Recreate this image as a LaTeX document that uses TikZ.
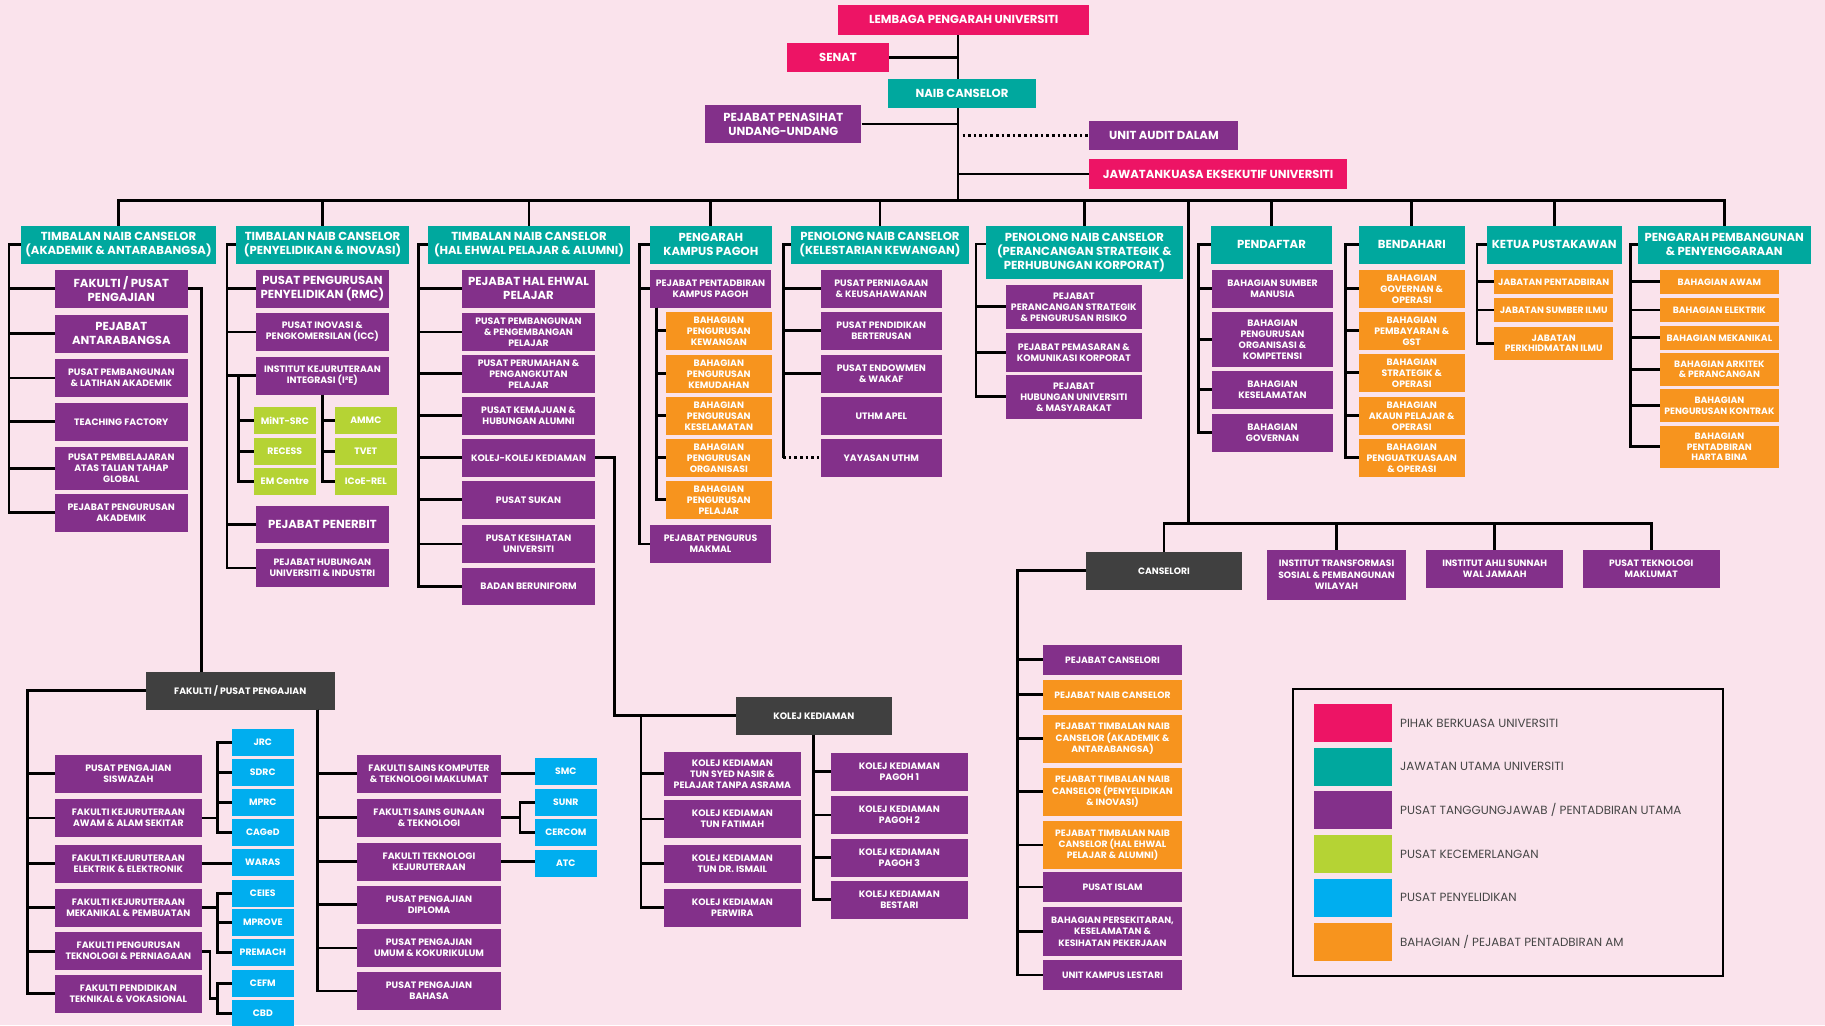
\documentclass[tikz,border=0pt]{standalone}
\usepackage{fontspec}
\setmainfont{Poppins}
\usepackage{tikz}
\usepackage{xcolor}

\definecolor{bgpink}{RGB}{250,227,236}
\definecolor{authpink}{RGB}{237,20,101}
\definecolor{mainteal}{RGB}{0,168,158}
\definecolor{unitpurple}{RGB}{131,48,138}
\definecolor{exclime}{RGB}{181,211,52}
\definecolor{rescyan}{RGB}{0,174,239}
\definecolor{admorange}{RGB}{247,148,30}
\definecolor{grpgray}{RGB}{64,64,64}
\definecolor{legendtext}{RGB}{70,70,70}

\tikzset{
    bx/.style={rectangle, inner sep=0pt, align=center, text=white, minimum height=32.3pt, font=\bfseries\fontsize{8}{9.45}\selectfont},
    bigtxt/.style={font=\bfseries\fontsize{10}{12}\selectfont},
    lesstxt/.style={font=\bfseries\fontsize{7.9}{9.2}\selectfont},
    slimtxt/.style={font=\bfseries\fontsize{7.9}{9.6}\selectfont},
    authbox/.style={bx, bigtxt, fill=authpink},
    headbox/.style={bx, bigtxt, fill=mainteal},
    unitbox/.style={bx, fill=unitpurple},
    admbox/.style={bx, fill=admorange},
    grpbox/.style={bx, fill=grpgray},
    excbox/.style={bx, fill=exclime, minimum width=53pt, minimum height=22.9pt},
    resbox/.style={bx, fill=rescyan, minimum width=53pt, minimum height=22.9pt},
    wire/.style={line width=2.4pt},
    dotwire/.style={line width=2.4pt, dash pattern=on 2.2pt off 2.6pt}
}

\begin{document}
\begin{tikzpicture}[x=1pt, y=-1pt]
\fill[bgpink] (0,0) rectangle (1568,881);
\useasboundingbox (0,0) rectangle (1568,881);

\node[authbox, minimum width=216pt, minimum height=26pt] (lpu) at (828,17) {LEMBAGA PENGARAH UNIVERSITI};
\node[authbox, minimum width=88pt, minimum height=25pt] (senat) at (720,49.5) {SENAT};
\node[headbox, minimum width=127pt, minimum height=25pt] (nc) at (826.5,80.5) {NAIB CANSELOR};
\node[unitbox, bigtxt, minimum width=134pt, minimum height=33pt] (pua) at (673,106.5) {PEJABAT PENASIHAT\\UNDANG-UNDANG};
\node[unitbox, bigtxt, minimum width=128pt, minimum height=25pt] (uad) at (1000,116.5) {UNIT AUDIT DALAM};
\node[authbox, minimum width=221pt, minimum height=25pt] (jeu) at (1046.5,149.5) {JAWATANKUASA EKSEKUTIF UNIVERSITI};

\node[headbox, minimum width=167.6pt] (t1) at (101.8,210.3) {TIMBALAN NAIB CANSELOR\\(AKADEMIK \& ANTARABANGSA)};
\node[headbox, minimum width=148.6pt] (t2) at (277.1,210.3) {TIMBALAN NAIB CANSELOR\\(PENYELIDIKAN \& INOVASI)};
\node[headbox, minimum width=173.6pt] (t3) at (454.5,210.3) {TIMBALAN NAIB CANSELOR\\(HAL EHWAL PELAJAR \& ALUMNI)};
\node[headbox, minimum width=104.5pt] (t4) at (610.75,210.3) {PENGARAH\\KAMPUS PAGOH};
\node[headbox, minimum width=152.9pt] (t5) at (756.05,210.3) {PENOLONG NAIB CANSELOR\\(KELESTARIAN KEWANGAN)};
\node[headbox, minimum width=169.1pt, minimum height=45.5pt] (t6) at (931.65,216.95) {PENOLONG NAIB CANSELOR\\(PERANCANGAN STRATEGIK \&\\PERHUBUNGAN KORPORAT)};
\node[headbox, minimum width=103.8pt] (t7) at (1092.4,210.3) {PENDAFTAR};
\node[headbox, minimum width=90.9pt] (t8) at (1212.95,210.3) {BENDAHARI};
\node[headbox, minimum width=115.8pt] (t9) at (1335.4,210.3) {KETUA PUSTAKAWAN};
\node[headbox, minimum width=148.3pt] (t10) at (1481.45,210.3) {PENGARAH PEMBANGUNAN\\\& PENYENGGARAAN};

\node[unitbox, bigtxt, minimum width=114pt] (a1) at (104.25,248.2) {FAKULTI / PUSAT\\PENGAJIAN};
\node[unitbox, bigtxt, minimum width=114pt] (a2) at (104.25,286.8) {PEJABAT\\ANTARABANGSA};
\node[unitbox, minimum width=114pt] (a3) at (104.25,324.75) {PUSAT PEMBANGUNAN\\\& LATIHAN AKADEMIK};
\node[unitbox, minimum width=114pt] (a4) at (104.25,362.45) {TEACHING FACTORY};
\node[unitbox, minimum width=114pt, minimum height=36.4pt] (a5) at (104.25,402.5) {PUSAT PEMBELAJARAN\\ATAS TALIAN TAHAP\\GLOBAL};
\node[unitbox, minimum width=114pt] (a6) at (104.25,440.6) {PEJABAT PENGURUSAN\\AKADEMIK};

\node[unitbox, bigtxt, minimum width=114pt] (b1) at (277,248.2) {PUSAT PENGURUSAN\\PENYELIDIKAN (RMC)};
\node[unitbox, minimum width=114pt] (b2) at (277,285.25) {PUSAT INOVASI \&\\PENGKOMERSILAN (ICC)};
\node[unitbox, minimum width=114pt] (b3) at (277,322.9) {INSTITUT KEJURUTERAAN\\INTEGRASI (I²E)};
\node[excbox] (m1) at (244.7,361.15) {MiNT-SRC};
\node[excbox] (m2) at (244.7,387.9) {RECESS};
\node[excbox] (m3) at (244.7,413.55) {EM Centre};
\node[excbox] (m4) at (314.3,361.15) {AMMC};
\node[excbox] (m5) at (314.3,387.9) {TVET};
\node[excbox] (m6) at (314.3,413.55) {ICoE-REL};
\node[unitbox, bigtxt, minimum width=114pt] (b4) at (277,450.75) {PEJABAT PENERBIT};
\node[unitbox, minimum width=114pt] (b5) at (277,488) {PEJABAT HUBUNGAN\\UNIVERSITI \& INDUSTRI};

\node[unitbox, bigtxt, minimum width=114.2pt] (h1) at (454.1,248.2) {PEJABAT HAL EHWAL\\PELAJAR};
\node[unitbox, minimum width=114.2pt] (h2) at (454.1,285.25) {PUSAT PEMBANGUNAN\\\& PENGEMBANGAN\\PELAJAR};
\node[unitbox, minimum width=114.2pt] (h3) at (454.1,321.2) {PUSAT PERUMAHAN \&\\PENGANGKUTAN\\PELAJAR};
\node[unitbox, minimum width=114.2pt] (h4) at (454.1,357.3) {PUSAT KEMAJUAN \&\\HUBUNGAN ALUMNI};
\node[unitbox, minimum width=114.2pt] (h5) at (454.1,393.4) {KOLEJ-KOLEJ KEDIAMAN};
\node[unitbox, minimum width=114.2pt] (h6) at (454.1,429.45) {PUSAT SUKAN};
\node[unitbox, minimum width=114.2pt] (h7) at (454.1,467.3) {PUSAT KESIHATAN\\UNIVERSITI};
\node[unitbox, minimum width=114.2pt] (h8) at (454.1,504) {BADAN BERUNIFORM};

\node[unitbox, minimum width=104pt] (p1) at (610.45,248.2) {PEJABAT PENTADBIRAN\\KAMPUS PAGOH};
\node[admbox, minimum width=90.8pt] (p2) at (617.6,284.2) {BAHAGIAN\\PENGURUSAN\\KEWANGAN};
\node[admbox, minimum width=90.8pt] (p3) at (617.6,321.2) {BAHAGIAN\\PENGURUSAN\\KEMUDAHAN};
\node[admbox, minimum width=90.8pt] (p4) at (617.6,357.3) {BAHAGIAN\\PENGURUSAN\\KESELAMATAN};
\node[admbox, minimum width=90.8pt] (p5) at (617.6,393.4) {BAHAGIAN\\PENGURUSAN\\ORGANISASI};
\node[admbox, minimum width=90.8pt] (p6) at (617.6,429.45) {BAHAGIAN\\PENGURUSAN\\PELAJAR};
\node[unitbox, minimum width=104pt] (p7) at (610.45,467.3) {PEJABAT PENGURUS\\MAKMAL};

\node[unitbox, minimum width=103.6pt] (w1) at (757.2,248.2) {PUSAT PERNIAGAAN\\\& KEUSAHAWANAN};
\node[unitbox, minimum width=103.6pt] (w2) at (757.2,284.2) {PUSAT PENDIDIKAN\\BERTERUSAN};
\node[unitbox, minimum width=103.6pt] (w3) at (757.2,321.2) {PUSAT ENDOWMEN\\\& WAKAF};
\node[unitbox, minimum width=103.6pt] (w4) at (757.2,357.3) {UTHM APEL};
\node[unitbox, minimum width=103.6pt] (w5) at (757.2,393.4) {YAYASAN UTHM};

\node[unitbox, minimum width=116.6pt, minimum height=37.5pt] (g1) at (922.6,263.65) {PEJABAT\\PERANCANGAN STRATEGIK\\\& PENGURUSAN RISIKO};
\node[unitbox, minimum width=116.6pt, minimum height=32.9pt] (g2) at (922.6,302.85) {PEJABAT PEMASARAN \&\\KOMUNIKASI KORPORAT};
\node[unitbox, minimum width=116.6pt, minimum height=37.5pt] (g3) at (922.6,340.95) {PEJABAT\\HUBUNGAN UNIVERSITI\\\& MASYARAKAT};

\node[unitbox, minimum width=103.4pt] (r1) at (1093.3,248.2) {BAHAGIAN SUMBER\\MANUSIA};
\node[unitbox, minimum width=103.4pt, minimum height=46.7pt] (r2) at (1093.3,291.65) {BAHAGIAN\\PENGURUSAN\\ORGANISASI \&\\KOMPETENSI};
\node[unitbox, minimum width=103.4pt] (r3) at (1093.3,334.95) {BAHAGIAN\\KESELAMATAN};
\node[unitbox, minimum width=103.4pt] (r4) at (1093.3,371.85) {BAHAGIAN\\GOVERNAN};

\node[admbox, minimum width=90.9pt] (f1) at (1212.95,248.2) {BAHAGIAN\\GOVERNAN \&\\OPERASI};
\node[admbox, minimum width=90.9pt] (f2) at (1212.95,284.2) {BAHAGIAN\\PEMBAYARAN \&\\GST};
\node[admbox, minimum width=90.9pt] (f3) at (1212.95,320.3) {BAHAGIAN\\STRATEGIK \&\\OPERASI};
\node[admbox, minimum width=90.9pt] (f4) at (1212.95,357.3) {BAHAGIAN\\AKAUN PELAJAR \&\\OPERASI};
\node[admbox, minimum width=90.9pt] (f5) at (1212.95,393.4) {BAHAGIAN\\PENGUATKUASAAN\\\& OPERASI};

\node[admbox, lesstxt, minimum width=102.2pt, minimum height=20.3pt] (j1) at (1334.9,242.15) {JABATAN PENTADBIRAN};
\node[admbox, lesstxt, minimum width=102.2pt, minimum height=20.1pt] (j2) at (1334.9,266.35) {JABATAN SUMBER ILMU};
\node[admbox, lesstxt, minimum width=102.2pt, minimum height=28pt] (j3) at (1334.9,295) {JABATAN\\PERKHIDMATAN ILMU};

\node[admbox, lesstxt, minimum width=101.7pt, minimum height=20.3pt] (e1) at (1477.25,242.15) {BAHAGIAN AWAM};
\node[admbox, lesstxt, minimum width=101.7pt, minimum height=20.1pt] (e2) at (1477.25,266.35) {BAHAGIAN ELEKTRIK};
\node[admbox, lesstxt, minimum width=101.7pt, minimum height=20.3pt] (e3) at (1477.25,290.25) {BAHAGIAN MEKANIKAL};
\node[admbox, lesstxt, minimum width=101.7pt, minimum height=28.1pt] (e4) at (1477.25,317.35) {BAHAGIAN ARKITEK\\\& PERANCANGAN};
\node[admbox, lesstxt, minimum width=101.7pt, minimum height=27.8pt] (e5) at (1477.25,348.4) {BAHAGIAN\\PENGURUSAN KONTRAK};
\node[admbox, lesstxt, minimum width=101.7pt, minimum height=35.8pt] (e6) at (1477.25,383.9) {BAHAGIAN\\PENTADBIRAN\\HARTA BINA};

\node[grpbox, minimum width=162.1pt] (fp) at (206.45,593.55) {FAKULTI / PUSAT PENGAJIAN};
\node[unitbox, minimum width=126pt] (u1) at (110.3,664.85) {PUSAT PENGAJIAN\\SISWAZAH};
\node[unitbox, minimum width=126pt] (u2) at (110.3,702.85) {FAKULTI KEJURUTERAAN\\AWAM \& ALAM SEKITAR};
\node[unitbox, minimum width=126pt] (u3) at (110.3,742.2) {FAKULTI KEJURUTERAAN\\ELEKTRIK \& ELEKTRONIK};
\node[unitbox, minimum width=126pt] (u4) at (110.3,780) {FAKULTI KEJURUTERAAN\\MEKANIKAL \& PEMBUATAN};
\node[unitbox, minimum width=126pt] (u5) at (110.3,817.2) {FAKULTI PENGURUSAN\\TEKNOLOGI \& PERNIAGAAN};
\node[unitbox, minimum width=126pt] (u6) at (110.3,853.85) {FAKULTI PENDIDIKAN\\TEKNIKAL \& VOKASIONAL};
\node[resbox] (jrc) at (225.8,638.05) {JRC};
\node[resbox] (sdrc) at (225.8,663.7) {SDRC};
\node[resbox] (mprc) at (225.8,689.5) {MPRC};
\node[resbox] (caged) at (225.8,715.15) {CAGeD};
\node[resbox] (waras) at (225.8,740.9) {WARAS};
\node[resbox] (ceies) at (225.8,767.55) {CEIES};
\node[resbox] (mprove) at (225.8,792.75) {MPROVE};
\node[resbox] (premach) at (225.8,818.25) {PREMACH};
\node[resbox] (cefm) at (225.8,845.15) {CEFM};
\node[resbox] (cbd) at (225.8,870.7) {CBD};
\node[unitbox, minimum width=123.8pt] (v1) at (368.6,664.85) {FAKULTI SAINS KOMPUTER\\\& TEKNOLOGI MAKLUMAT};
\node[unitbox, minimum width=123.8pt] (v2) at (368.6,702.7) {FAKULTI SAINS GUNAAN\\\& TEKNOLOGI};
\node[unitbox, minimum width=123.8pt] (v3) at (368.6,740.5) {FAKULTI TEKNOLOGI\\KEJURUTERAAN};
\node[unitbox, minimum width=123.8pt] (v4) at (368.6,777.4) {PUSAT PENGAJIAN\\DIPLOMA};
\node[unitbox, minimum width=123.8pt] (v5) at (368.6,814.4) {PUSAT PENGAJIAN\\UMUM \& KOKURIKULUM};
\node[unitbox, minimum width=123.8pt] (v6) at (368.6,851.45) {PUSAT PENGAJIAN\\BAHASA};
\node[resbox] (smc) at (486.15,662.75) {SMC};
\node[resbox] (sunr) at (486.15,689.35) {SUNR};
\node[resbox] (cercom) at (486.15,715.15) {CERCOM};
\node[resbox] (atc) at (486.15,741.75) {ATC};

\node[grpbox, minimum width=133.7pt] (kk) at (699.25,615) {KOLEJ KEDIAMAN};
\node[unitbox, minimum width=117.5pt, minimum height=37.5pt] (k1) at (629.25,664.85) {KOLEJ KEDIAMAN\\TUN SYED NASIR \&\\PELAJAR TANPA ASRAMA};
\node[unitbox, minimum width=117.5pt] (k2) at (629.25,703.65) {KOLEJ KEDIAMAN\\TUN FATIMAH};
\node[unitbox, minimum width=117.5pt] (k3) at (629.25,742.2) {KOLEJ KEDIAMAN\\TUN DR. ISMAIL};
\node[unitbox, minimum width=117.5pt] (k4) at (629.25,780) {KOLEJ KEDIAMAN\\PERWIRA};
\node[unitbox, minimum width=117.4pt] (k5) at (772.7,663.15) {KOLEJ KEDIAMAN\\PAGOH 1};
\node[unitbox, minimum width=117.4pt] (k6) at (772.7,700.15) {KOLEJ KEDIAMAN\\PAGOH 2};
\node[unitbox, minimum width=117.4pt] (k7) at (772.7,737.05) {KOLEJ KEDIAMAN\\PAGOH 3};
\node[unitbox, minimum width=117.4pt] (k8) at (772.7,773.15) {KOLEJ KEDIAMAN\\BESTARI};

\node[grpbox, slimtxt, minimum width=134pt] (cs) at (1000,490.45) {CANSELORI};
\node[unitbox, slimtxt, minimum width=119.9pt, minimum height=42.6pt] (it1) at (1148.35,493.9) {INSTITUT TRANSFORMASI\\SOSIAL \& PEMBANGUNAN\\WILAYAH};
\node[unitbox, slimtxt, minimum width=117.6pt, minimum height=32.4pt] (it2) at (1284.2,488.8) {INSTITUT AHLI SUNNAH\\WAL JAMAAH};
\node[unitbox, slimtxt, minimum width=117.4pt, minimum height=32.4pt] (ptm) at (1418.7,488.8) {PUSAT TEKNOLOGI\\MAKLUMAT};
\node[unitbox, slimtxt, minimum width=119.5pt, minimum height=25.5pt] (q1) at (955.85,566.95) {PEJABAT CANSELORI};
\node[admbox, slimtxt, minimum width=119.5pt, minimum height=25.5pt] (q2) at (955.85,596.95) {PEJABAT NAIB CANSELOR};
\node[admbox, slimtxt, minimum width=119.5pt, minimum height=41pt] (q3) at (955.85,634.8) {PEJABAT TIMBALAN NAIB\\CANSELOR (AKADEMIK \&\\ANTARABANGSA)};
\node[admbox, slimtxt, minimum width=119.5pt, minimum height=40.9pt] (q4) at (955.85,680.35) {PEJABAT TIMBALAN NAIB\\CANSELOR (PENYELIDIKAN\\\& INOVASI)};
\node[admbox, slimtxt, minimum width=119.5pt, minimum height=41.2pt] (q5) at (955.85,726) {PEJABAT TIMBALAN NAIB\\CANSELOR (HAL EHWAL\\PELAJAR \& ALUMNI)};
\node[unitbox, slimtxt, minimum width=119.5pt, minimum height=25.2pt] (q6) at (955.85,762.1) {PUSAT ISLAM};
\node[unitbox, slimtxt, minimum width=119.5pt, minimum height=42.4pt] (q7) at (955.85,800.5) {BAHAGIAN PERSEKITARAN,\\KESELAMATAN \&\\KESIHATAN PEKERJAAN};
\node[unitbox, slimtxt, minimum width=119.5pt, minimum height=25.3pt] (q8) at (955.85,837.65) {UNIT KAMPUS LESTARI};

\draw[line width=1.8pt] (1110.6,592.3) rectangle (1480,838.3);
\foreach \c/\y/\t [count=\i] in {authpink/621.05/{PIHAK BERKUASA UNIVERSITI}, mainteal/658.85/{JAWATAN UTAMA UNIVERSITI}, unitpurple/695.8/{PUSAT TANGGUNGJAWAB / PENTADBIRAN UTAMA}, exclime/733.6/{PUSAT KECEMERLANGAN}, rescyan/771.4/{PUSAT PENYELIDIKAN}, admorange/809.2/{BAHAGIAN / PEJABAT PENTADBIRAN AM}} {
    \node[fill=\c, minimum width=67pt, minimum height=32.3pt, inner sep=0pt] (sw\i) at (1162.5,\y) {};
    \node[anchor=west, inner sep=0pt, text=legendtext, font=\fontsize{10.2}{12}\selectfont] (lb\i) at (1202.8,\y) {\t};
}

\coordinate (bus) at (823,172);
\coordinate (dn) at (1021,172);
\coordinate (bus2) at (1021,449.6);
\coordinate (dt) at (827,116.5);
\draw[wire] (bus |- lpu.south) -- (bus |- nc.north);
\draw[wire] (bus |- nc.south) -- (bus);
\draw[wire] (senat.east) -- (senat.east -| bus);
\draw[wire] (pua.east) -- (pua.east -| bus);
\draw[dotwire] (dt) -- (uad.west);
\draw[wire] (jeu.west) -- (jeu.west -| bus);
\draw[wire] (t1.north) |- (bus);
\draw[wire] (t10.north) |- (bus);
\foreach \n in {t2,t3,t4,t5,t6,t7,t8,t9}
    \draw[wire] (\n.north) -- (\n.north |- bus);

\coordinate (s1) at (7.7,210.3);
\draw[wire] (t1.west) -| (s1 |- a6.west) -- (a6.west);
\foreach \n in {a1,a2,a3,a4,a5}
    \draw[wire] (s1) |- (\n.west);

\coordinate (s2) at (195,210.3);
\draw[wire] (t2.west) -| (s2 |- b5.west) -- (b5.west);
\foreach \n in {b1,b2,b3,b4}
    \draw[wire] (s2) |- (\n.west);
\coordinate (ia) at (205,322.9);
\foreach \n in {m1,m2,m3}
    \draw[wire] (ia) |- (\n.west);
\foreach \n in {m4,m5,m6}
    \draw[wire] (b3.south) |- (\n.west);

\coordinate (s3) at (359.4,210.3);
\draw[wire] (t3.west) -| (s3 |- h8.west) -- (h8.west);
\foreach \n in {h1,h2,h3,h4,h5,h6,h7}
    \draw[wire] (s3) |- (\n.west);
\coordinate (kj) at (528.1,615);
\coordinate (kl) at (550.7,615);
\draw[wire] (h5.east) -| (kj) -- (kk.west);
\foreach \n in {k1,k2,k3,k4}
    \draw[wire] (kl) |- (\n.west);
\foreach \n in {k5,k6,k7,k8}
    \draw[wire] (kk.south) |- (\n.west);

\coordinate (s4) at (549.3,210.3);
\draw[wire] (t4.west) -| (s4 |- p7.west) -- (p7.west);
\draw[wire] (s4) |- (p1.west);
\coordinate (pg) at (564.2,264.35);
\foreach \n in {p2,p3,p4,p5,p6}
    \draw[wire] (pg) |- (\n.west);

\coordinate (s5) at (673,210.3);
\draw[wire] (t5.west) -| (s5 |- w5.west);
\draw[dotwire] (s5 |- w5.west) -- (w5.west);
\foreach \n in {w1,w2,w3}
    \draw[wire] (s5) |- (\n.west);

\coordinate (s6) at (838.6,209.6);
\draw[wire] (s6 -| t6.west) -| (s6 |- g3.west) -- (g3.west);
\foreach \n in {g1,g2}
    \draw[wire] (s6) |- (\n.west);

\coordinate (s7) at (1030,210.3);
\draw[wire] (t7.west) -| (s7 |- r4.west) -- (r4.west);
\foreach \n in {r1,r2,r3}
    \draw[wire] (s7) |- (\n.west);

\coordinate (s8) at (1156,210.3);
\draw[wire] (t8.west) -| (s8 |- f5.west) -- (f5.west);
\foreach \n in {f1,f2,f3,f4}
    \draw[wire] (s8) |- (\n.west);

\coordinate (s9) at (1268.9,210.3);
\draw[wire] (t9.west) -| (s9 |- j3.west) -- (j3.west);
\foreach \n in {j1,j2}
    \draw[wire] (s9) |- (\n.west);

\coordinate (s10) at (1401,210.3);
\draw[wire] (t10.west) -| (s10 |- e6.west) -- (e6.west);
\foreach \n in {e1,e2,e3,e4,e5}
    \draw[wire] (s10) |- (\n.west);

\coordinate (fq) at (173,248.2);
\draw[wire] (a1.east) -| (fq |- fp.north);
\coordinate (fl) at (23.5,593.55);
\draw[wire] (fp.west) -| (fl |- u6.west) -- (u6.west);
\foreach \n in {u1,u2,u3,u4,u5}
    \draw[wire] (fl) |- (\n.west);
\coordinate (fr) at (272.6,609.7);
\foreach \n in {v1,v2,v3,v4,v5,v6}
    \draw[wire] (fr) |- (\n.west);
\coordinate (ca) at (186.7,702.85);
\draw[wire] (u2.east) -- (ca);
\foreach \n in {jrc,sdrc,mprc,caged}
    \draw[wire] (ca) |- (\n.west);
\draw[wire] (u3.east) -- (u3.east -| waras.west);
\coordinate (cb) at (186.7,780);
\draw[wire] (u4.east) -- (cb);
\foreach \n in {ceies,mprove,premach}
    \draw[wire] (cb) |- (\n.west);
\coordinate (cj) at (180.4,857.7);
\coordinate (cc) at (186.7,857.7);
\draw[wire] (u5.east) -| (cj) -- (cc);
\foreach \n in {cefm,cbd}
    \draw[wire] (cc) |- (\n.west);
\draw[wire] (v1.east) -- (v1.east -| smc.west);
\coordinate (cd) at (446.8,702.7);
\draw[wire] (v2.east) -- (cd);
\foreach \n in {sunr,cercom}
    \draw[wire] (cd) |- (\n.west);
\draw[wire] (v3.east) -- (v3.east -| atc.west);

\draw[wire] (dn) -- (bus2);
\draw[wire] (cs.north) |- (bus2 -| ptm.north) -- (ptm.north);
\foreach \n in {it1,it2}
    \draw[wire] (\n.north) -- (\n.north |- bus2);
\coordinate (cl) at (874,490.45);
\draw[wire] (cs.west) -| (cl |- q8.west) -- (q8.west);
\foreach \n in {q1,q2,q3,q4,q5,q6,q7}
    \draw[wire] (cl) |- (\n.west);
\end{tikzpicture}
\end{document}
